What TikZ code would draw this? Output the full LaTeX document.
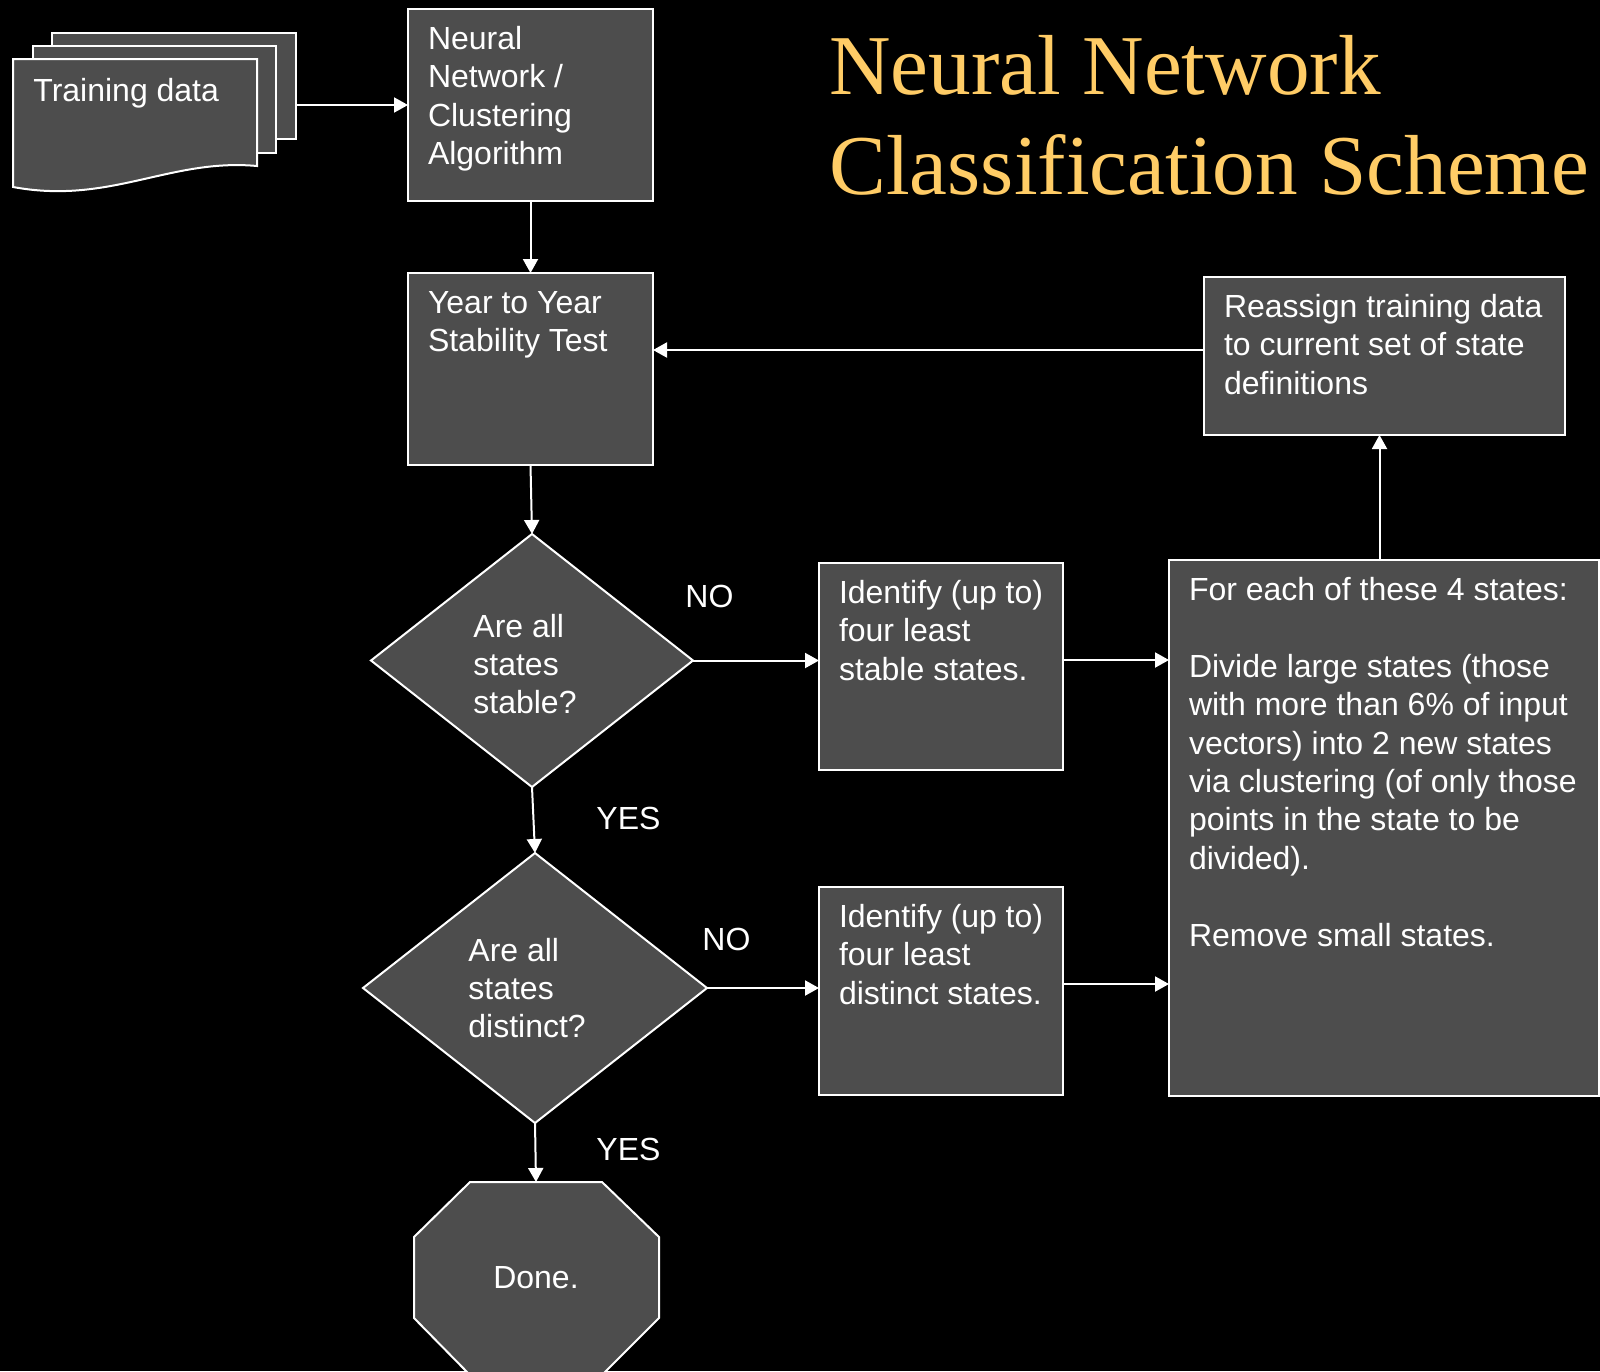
\documentclass[tikz,border=0pt]{standalone}
\usepackage{fontspec}
\setmainfont{Liberation Sans}
\newfontfamily\titlefont{Liberation Serif}
\usetikzlibrary{arrows.meta,shapes.geometric}
\definecolor{boxgray}{RGB}{77,77,77}
\definecolor{titlegold}{RGB}{255,204,102}
\newcommand\bxt[3]{\parbox[t][\dimexpr#2-13.6pt\relax][t]{\dimexpr#1-20pt\relax}{\raggedright\strut #3}}
\newcommand\lns[1]{\parbox[t]{8cm}{\raggedright #1}}
\begin{document}
\begin{tikzpicture}[x=0.5pt,y=-0.5pt,
  every node/.style={text=white, font=\fontsize{16pt}{19.2pt}\selectfont},
  box/.style={draw=white, fill=boxgray, line width=1pt, rectangle, inner xsep=10pt, inner ysep=6.8pt, outer sep=0pt, anchor=north west},
  sheet/.style={draw=white, fill=boxgray, line width=1pt},
  sheetbox/.style={sheet, rectangle, inner sep=0pt, outer sep=0pt, anchor=north west},
  dia/.style={diamond, draw=white, fill=boxgray, line width=1pt, inner sep=0pt, outer sep=0pt},
  txt/.style={anchor=base west, inner sep=0pt},
  arr/.style={draw=white, line width=1pt, -{Triangle[length=7pt,width=7.5pt]}}]
\useasboundingbox (0,0) rectangle (1600,1371);
\fill[black] (0,0) rectangle (1600,1371);

% title
\node[txt, text=titlegold, font=\titlefont\fontsize{42.6pt}{50pt}\selectfont] (title) at (829,94)
  {\parbox[t]{15cm}{Neural Network\\Classification Scheme}};

% training data stack
\node[sheetbox, minimum width=122pt, minimum height=53pt] (back) at (52,33) {};
\node[sheetbox, minimum width=121.5pt, minimum height=53.5pt] (mid) at (33,46) {};
\draw[sheet] (13,59) -- (257,59) -- (257,166) .. controls (170,158) and (110,205) .. (13,187) -- cycle;
\node[txt] (train) at (33,101) {Training data};

% boxes
\node[box] (nn) at (408,9) {\bxt{122.5pt}{96pt}{Neural\\Network /\\Clustering\\Algorithm}};
\node[box] (year) at (408,273) {\bxt{122.5pt}{96pt}{Year to Year\\Stability Test}};
\node[box] (id1) at (819,563) {\bxt{122pt}{103.5pt}{Identify (up to)\\four least\\stable states.}};
\node[box] (id2) at (819,887) {\bxt{122pt}{104pt}{Identify (up to)\\four least\\distinct states.}};
\node[box] (re) at (1204,277) {\bxt{180.5pt}{79pt}{Reassign training data\\to current set of state\\definitions}};
\node[box] (big) at (1169,560) {\bxt{215pt}{268pt}{For each of these 4 states:\\[19.2pt]Divide large states (those\\with more than 6\% of input\\vectors) into 2 new states\\via clustering (of only those\\points in the state to be\\divided).\\[19.2pt]Remove small states.}};

% decisions
\node[dia, minimum width=161pt, minimum height=126.5pt] (d1) at (532,660.5) {};
\node[txt] (d1t) at (473,637) {\lns{Are all\\states\\stable?}};
\node[dia, minimum width=172pt, minimum height=135pt] (d2) at (535,988) {};
\node[txt] (d2t) at (468,961) {\lns{Are all\\states\\distinct?}};

% end
\draw[sheet] (470,1182) -- (602,1182) -- (659,1237) -- (659,1318) -- (602,1375) -- (470,1375) -- (414,1318) -- (414,1237) -- cycle;
\coordinate (octtop) at (536,1182);
\node[anchor=base, inner sep=0pt] (done) at (536,1288) {Done.};

% labels
\node[txt] (no1) at (685,607) {NO};
\node[txt] (no2) at (702,950) {NO};
\node[txt] (yes1) at (596,829) {YES};
\node[txt] (yes2) at (596,1160) {YES};

% connectors
\draw[arr] (nn.west -| back.east) -- (nn.west);
\draw[arr] (nn.south) -- (year.north);
\draw[arr] (year.south) -- (d1.north);
\draw[arr] (d1.east) -- (d1.east -| id1.west);
\draw[arr] ([yshift=3.25pt]id1.east) -- ([yshift=3.25pt]id1.east -| big.west);
\draw[arr] ([xshift=-2.5pt]re.south |- big.north) -- ([xshift=-2.5pt]re.south);
\draw[arr] ([yshift=3pt]re.west) -- ([yshift=3pt]re.west -| year.east);
\draw[arr] (d1.south) -- (d2.north);
\draw[arr] (d2.east) -- (d2.east -| id2.west);
\draw[arr] ([yshift=3.5pt]id2.east) -- ([yshift=3.5pt]id2.east -| big.west);
\draw[arr] (d2.south) -- (octtop);
\end{tikzpicture}
\end{document}
